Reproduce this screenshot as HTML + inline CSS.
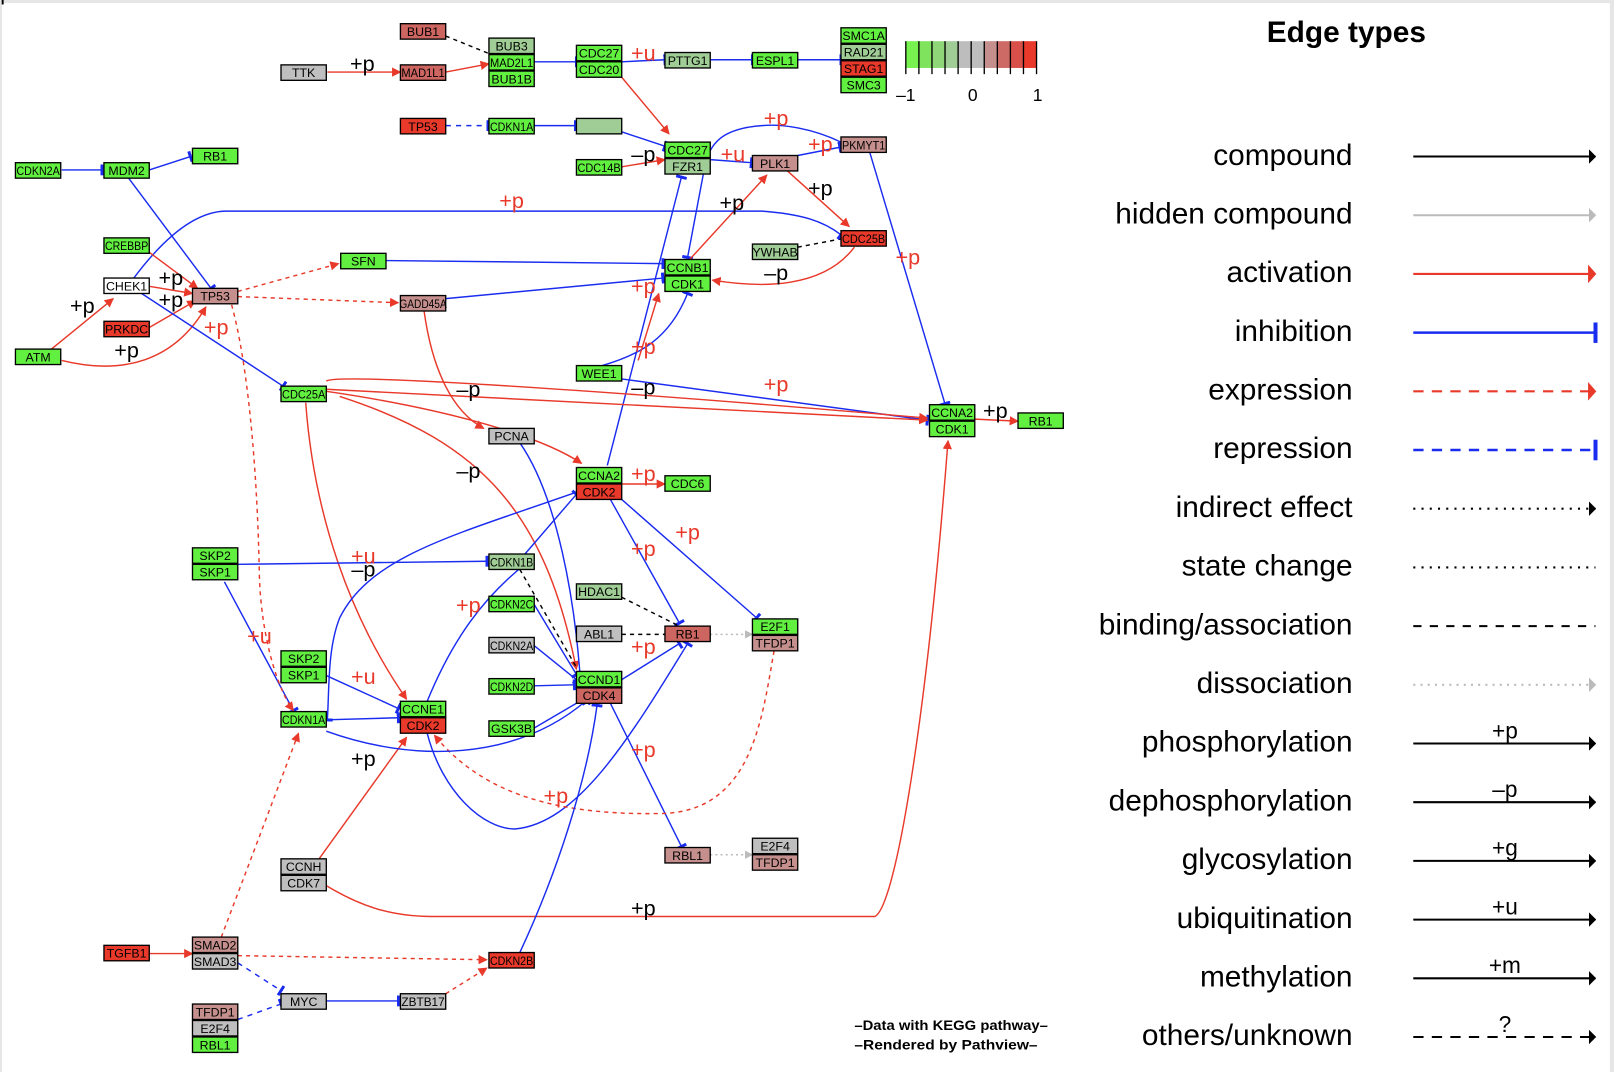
<!DOCTYPE html>
<html><head><meta charset="utf-8"><title>Cell cycle pathway</title>
<style>
html,body{margin:0;padding:0;background:#fff;}
svg{display:block;}
text{font-family:"Liberation Sans",Arial,sans-serif;}
</style></head>
<body>
<svg id="chart" width="1614" height="1072" viewBox="0 0 1568 1041" preserveAspectRatio="none" xmlns="http://www.w3.org/2000/svg">
<defs>
<marker id="ra" viewBox="0 0 10 10" refX="9" refY="5" markerWidth="9" markerHeight="9" markerUnits="userSpaceOnUse" orient="auto"><path d="M0,0L10,5L0,10z" fill="#e8392a"/></marker>
<marker id="ka" viewBox="0 0 10 10" refX="9" refY="5" markerWidth="9" markerHeight="9" markerUnits="userSpaceOnUse" orient="auto"><path d="M0,0L10,5L0,10z" fill="#000"/></marker>
<marker id="ga" viewBox="0 0 10 10" refX="9" refY="5" markerWidth="8" markerHeight="8" markerUnits="userSpaceOnUse" orient="auto"><path d="M0,0L10,5L0,10z" fill="#bbb"/></marker>
<marker id="bb" viewBox="0 0 4 14" refX="2" refY="7" markerWidth="3" markerHeight="14" markerUnits="userSpaceOnUse" orient="auto"><rect x="0" y="0" width="4" height="14" fill="#1a2cf0"/></marker>
<marker id="Lra" viewBox="0 0 10 10" refX="9" refY="5" markerWidth="8" markerHeight="18" markerUnits="userSpaceOnUse" orient="auto" preserveAspectRatio="none"><path d="M0,0L10,5L0,10z" fill="#e8392a"/></marker>
<marker id="Lka" viewBox="0 0 10 10" refX="9" refY="5" markerWidth="7" markerHeight="14" markerUnits="userSpaceOnUse" orient="auto" preserveAspectRatio="none"><path d="M0,0L10,5L0,10z" fill="#000"/></marker>
<marker id="Lga" viewBox="0 0 10 10" refX="9" refY="5" markerWidth="7" markerHeight="14" markerUnits="userSpaceOnUse" orient="auto" preserveAspectRatio="none"><path d="M0,0L10,5L0,10z" fill="#bbb"/></marker>
<marker id="Lbb" viewBox="0 0 4 20" refX="2" refY="10" markerWidth="4" markerHeight="20" markerUnits="userSpaceOnUse" orient="auto" preserveAspectRatio="none"><rect x="0" y="0" width="4" height="20" fill="#1a2cf0"/></marker>
</defs>
<rect x="0" y="0" width="1568" height="3" fill="#e6e6e6"/>
<rect x="0" y="0" width="2" height="1041" fill="#e6e6e6"/>
<rect x="1564" y="0" width="4" height="1041" fill="#e6e6e6"/>
<g id="edges"></g>
<g id="nodes"></g>
<g id="labels"></g>
<g id="colorkey"></g>
<g id="legend"></g>
<text x="830" y="1000" font-size="13" font-weight="bold" textLength="188" lengthAdjust="spacingAndGlyphs">–Data with KEGG pathway–</text>
<text x="830" y="1019" font-size="13" font-weight="bold" textLength="178" lengthAdjust="spacingAndGlyphs">–Rendered  by  Pathview–</text>
</svg>
<script>
const C={G:"#62f040",LG:"#9fcd95",GR:"#bfbfbf",PK:"#c48f8c",MR:"#cd6560",R:"#e8392a",W:"#ffffff",B:"#a0cc96"};
const nodeNames=["TTK","BUB1","MAD1L1","BUB3","MAD2L1","BUB1B","CDC27","CDC20","PTTG1","ESPL1","SMC1A","RAD21","STAG1","SMC3",
"TP53","CDKN1A","","CDC27","FZR1","CDC14B","PLK1","PKMYT1","CDKN2A","MDM2","RB1","CREBBP","CHEK1","TP53","PRKDC","ATM",
"SFN","GADD45A","YWHAB","CDC25B","CCNB1","CDK1","WEE1","CDC25A","PCNA","CCNA2","CDK2","CDC6","CCNA2","CDK1","RB1",
"SKP2","SKP1","CDKN1B","HDAC1","CDKN2C","ABL1","RB1","E2F1","TFDP1","CDKN2A","SKP2","SKP1","CDKN2D","CCND1","CDK4",
"CCNE1","CDK2","CDKN1A","GSK3B","RBL1","E2F4","TFDP1","CCNH","CDK7","TGFB1","SMAD2","SMAD3","CDKN2B","MYC","ZBTB17","TFDP1","E2F4","RBL1"];
const nodeX=[273,389,389,475,475,475,560,560,646,731,817,817,817,817,
389,475,560,646,646,560,731,817,15,101,187,101,101,187,101,15,
331,389,731,817,646,646,560,273,475,560,560,646,903,903,989,
187,187,475,560,475,560,646,731,731,475,273,273,475,560,560,
389,389,273,475,646,731,731,273,273,101,187,187,475,273,389,187,187,187];
const nodeY=[63,23,63,37,53,69,44,60,51,51,27,43,59,75,
115,115,115,138,154,155,151,133,158,158,144,231,270,280,312,339,
246,287,237,224,252,268,355,375,416,454,470,462,393,409,401,
532,548,538,567,579,608,608,601,617,619,632,648,659,652,668,
681,697,691,700,823,814,830,834,850,918,910,926,925,965,965,975,991,1007];
const nodeCol=["GR","MR","MR","LG","G","G","G","G","LG","G","G","LG","R","G",
"R","G","LG","G","LG","G","PK","PK","G","G","G","G","W","PK","R","G",
"G","PK","LG","R","G","G","G","G","GR","G","R","G","G","G","G",
"G","G","LG","LG","G","GR","MR","G","PK","GR","G","G","G","G","MR",
"G","R","G","G","PK","GR","PK","GR","GR","R","PK","GR","R","GR","GR","PK","GR","G"];
const edges=[
["act","M318,70L389,70"],["bind","M433,35L475,52"],["act","M433,70L475,62"],
["inh","M519,60L560,60"],["inh","M604,60L646,58"],["inh","M690,58L731,58"],["inh","M775,58L817,58"],
["act","M604,75L650,130"],["rep","M433,122L474,122"],["inh","M519,122L559,122"],
["inh","M604,128L646,142"],["act","M604,162L646,155"],["inh","M690,155L730,158"],["inh","M775,151L816,143"],
["inh","M817,138C790,125 760,120 740,122C700,125 690,140 685,160L668,250"],
["act","M765,166L825,220"],["act","M830,240C800,280 740,280 692,272"],["bind","M775,240L817,232"],
["inh","M845,148L918,392"],["act","M670,252L745,170"],["inh","M590,452L662,172"],
["inh","M130,270C160,230 190,205 220,205L740,205C780,208 800,215 817,228"],
["inh","M375,253L644,256"],["inh","M433,290L644,270"],
["exp","M231,283L329,256"],["exp","M231,288L387,294"],
["inh","M585,355C620,345 650,330 668,285"],["act","M620,350L640,285"],
["inh","M604,368L901,408"],["act","M317,370C330,362 600,380 901,406"],["act","M317,378L901,408"],
["act","M947,407L989,409"],["act","M317,380C420,395 520,420 565,450"],["act","M297,391C305,500 340,600 395,679"],
["act","M330,385C470,430 530,500 560,650"],["act","M412,302C420,360 440,400 470,416"],
["inh","M505,430C540,480 560,580 565,680"],["act","M604,470L646,470"],
["inh","M593,485L660,605"],["inh","M604,485L735,600"],
["inh","M560,478C440,520 360,540 330,600C318,630 320,670 318,699"],
["inh","M231,548L473,545"],["inh","M218,565L285,690"],["inh","M317,656L387,688"],["inh","M317,699L387,697"],
["inh","M510,538L560,480"],["bind","M505,553L560,648"],["bind","M604,580L660,608"],["bind","M604,616L646,616"],
["dis","M690,616L731,616"],["dis","M690,830L731,830"],
["inh","M593,683L662,822"],["inh","M604,660L660,625"],
["inh","M415,712C430,770 470,805 500,805C560,800 610,720 668,625"],
["exp","M752,632C740,700 730,790 640,790C520,792 460,760 422,714"],
["act","M310,834L395,716"],
["act","M317,860C350,880 380,890 420,890L850,890C870,880 900,700 921,428"],
["inh","M317,710C400,740 500,740 570,680"],
["inh","M519,587L560,655"],["inh","M519,627L560,660"],["inh","M519,666L558,665"],["inh","M519,707L565,680"],
["inh","M505,925C540,850 570,760 580,685"],
["inh","M415,681C440,620 470,580 510,548"],
["act","M145,926L187,926"],["exp","M231,928L473,932"],["rep","M231,935L273,962"],["rep","M231,990L273,975"],
["inh","M317,972L387,972"],["exp","M433,965L473,940"],["exp","M215,910L290,712"],
["exp","M225,296C240,350 250,450 252,560C254,620 270,670 285,690"],
["inh","M60,165L99,165"],["inh","M145,165L185,152"],["inh","M125,173L205,280"],
["act","M145,245L192,280"],["act","M145,278L187,285"],["act","M50,339L110,290"],
["act","M60,350C120,365 170,350 200,298"],["act","M145,318L190,292"],["inh","M130,280L275,375"]
];
const labText=["+p","+u","–p","+u","+p","+p","+p","–p","+p","+p","+p","+p","+p","+p","–p","+p","+p","–p","–p","+p","+p","+p","+u","–p","+u","+u","+p","+p","+p","+p","+p","+p","+p","+p","+p","+p","+p"];
const labX=[352,625,625,712,797,754,797,754,711,882,497,625,625,754,625,967,625,455,455,668,625,625,353,353,252,353,455,625,540,353,625,166,80,123,210,166];
const labY=[62,52,150,150,140,115,183,265,197,250,195,278,337,373,376,399,460,378,457,517,533,628,540,553,618,657,588,728,773,737,882,270,297,340,318,291];
const labCol=["k","r","k","r","r","r","k","k","k","r","r","r","r","r","k","k","r","k","k","r","r","r","r","k","r","r","r","r","r","k","k","k","k","k","r","k"];
const legLabels=["compound","hidden compound","activation","inhibition","expression","repression","indirect effect","state change","binding/association","dissociation","phosphorylation","dephosphorylation","glycosylation","ubiquitination","methylation","others/unknown"];
const legSub=["","","","","","","","","","","+p","–p","+g","+u","+m","?"];
const NS="http://www.w3.org/2000/svg";
function mk(t,a){const e=document.createElementNS(NS,t);for(const k in a)e.setAttribute(k,a[k]);return e;}
const gE=document.getElementById("edges");
edges.forEach(function(ed){
  const t=ed[0];let a={d:ed[1],fill:"none","stroke-width":"1.4"};
  if(t==="act"){a.stroke="#e8392a";a["marker-end"]="url(#ra)";}
  else if(t==="exp"){a.stroke="#e8392a";a["stroke-dasharray"]="4,4";a["marker-end"]="url(#ra)";}
  else if(t==="inh"){a.stroke="#1a2cf0";a["marker-end"]="url(#bb)";}
  else if(t==="rep"){a.stroke="#1a2cf0";a["stroke-dasharray"]="5,5";a["marker-end"]="url(#bb)";}
  else if(t==="bind"){a.stroke="#000";a["stroke-dasharray"]="4,4";}
  else if(t==="dis"){a.stroke="#bbb";a["stroke-dasharray"]="2,3";a["marker-end"]="url(#ga)";}
  const p=mk("path",a);
  
  
  gE.appendChild(p);
});
const gN=document.getElementById("nodes");
nodeNames.forEach(function(n,i){
  const g=mk("g",{});
  
  
  g.appendChild(mk("rect",{x:nodeX[i],y:nodeY[i],width:44,height:15,fill:C[nodeCol[i]],stroke:"#000","stroke-width":"1.3"}));
  const t=mk("text",{x:nodeX[i]+22,y:nodeY[i]+12,"font-size":"12","text-anchor":"middle"});
  if(n.length>5){t.setAttribute("textLength",n.length>6?"46":"42");t.setAttribute("lengthAdjust","spacingAndGlyphs");}
  t.textContent=n;g.appendChild(t);gN.appendChild(g);
});
const gL=document.getElementById("labels");
labText.forEach(function(s,i){
  const t=mk("text",{x:labX[i],y:labY[i]+7,"font-size":"21","text-anchor":"middle",fill:labCol[i]==="r"?"#e8392a":"#000"});
  
  
  t.textContent=s;gL.appendChild(t);
});
const keyCols=["#77f24f","#7fe35e","#8fd678","#a0cc96","#bdbdbd","#bdbdbd","#c48f8c","#cd6a66","#d9504a","#e8392a"];
const gK=document.getElementById("colorkey");
keyCols.forEach(function(c,i){
  const r=mk("rect",{x:880+i*12.7,y:40,width:12.7,height:26,fill:c});
  
  
  gK.appendChild(r);
});
for(let i=0;i<=10;i++){gK.appendChild(mk("line",{x1:880+i*12.7,y1:40,x2:880+i*12.7,y2:72,stroke:"#000","stroke-width":"1.3"}));}
[["–1",880],["0",945],["1",1008]].forEach(function(d){const t=mk("text",{x:d[1],y:98,"font-size":"17","text-anchor":"middle"});t.textContent=d[0];gK.appendChild(t);});
const gG=document.getElementById("legend");
const tt=mk("text",{x:1308,y:41,"font-size":"29","font-weight":"bold","text-anchor":"middle"});tt.textContent="Edge types";gG.appendChild(tt);
legLabels.forEach(function(s,i){
  const y=151+i*57;
  const t=mk("text",{x:1314,y:y+9,"font-size":"29","text-anchor":"end"});
  
  
  t.textContent=s;gG.appendChild(t);
  let st="#000",da=null,mkE="url(#Lka)";
  if(i===1){st="#bbb";mkE="url(#Lga)";}
  if(i===2){st="#e8392a";mkE="url(#Lra)";}
  if(i===3){st="#1a2cf0";mkE="url(#Lbb)";}
  if(i===4){st="#e8392a";da="10,8";mkE="url(#Lra)";}
  if(i===5){st="#1a2cf0";da="10,8";mkE="url(#Lbb)";}
  if(i===6){da="2,6";}
  if(i===7){da="2,6";mkE=null;}
  if(i===8){da="8,8";mkE=null;}
  if(i===9){st="#bbb";da="2,5";mkE="url(#Lga)";}
  if(i===15){da="10,8";}
  const a={x1:1373,y1:y+1,x2:1550,y2:y+1,stroke:st,"stroke-width":i===3||i===5?"2.5":"2"};
  if(da)a["stroke-dasharray"]=da;if(mkE)a["marker-end"]=mkE;
  gG.appendChild(mk("line",a));
  if(legSub[i]){const s2=mk("text",{x:1462,y:y-4,"font-size":"22","text-anchor":"middle"});s2.textContent=legSub[i];gG.appendChild(s2);}
});
</script>
</body></html>
